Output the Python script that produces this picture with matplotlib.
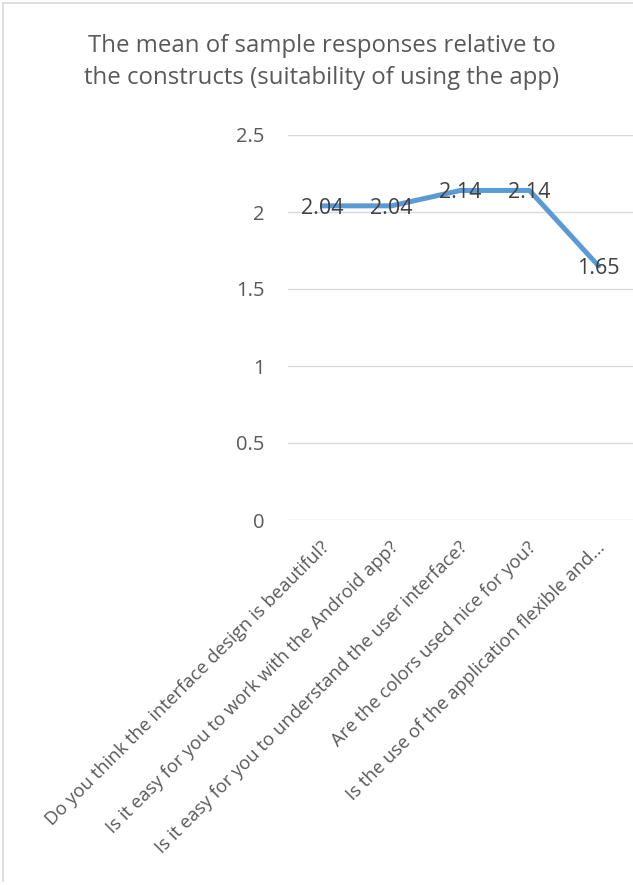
import matplotlib.pyplot as plt
from matplotlib.lines import Line2D

plt.rcParams['font.family'] = ['Open Sans', 'DejaVu Sans']

questions = [
    "Do you think the interface design is beautiful?",
    "Is it easy for you to work with the Android app?",
    "Is it easy for you to understand the user interface?",
    "Are the colors used nice for you?",
    "Is the use of the application flexible and...",
]
means = [2.04, 2.04, 2.14, 2.14, 1.65]
y_ticks = [0, 0.5, 1, 1.5, 2, 2.5]
y_tick_labels = ["0", "0.5", "1", "1.5", "2", "2.5"]
title = "The mean of sample responses relative to\nthe constructs (suitability of using the app)"

W, H = 633, 885
fig = plt.figure(figsize=(W / 100, H / 100), dpi=100)
fig.patch.set_facecolor('white')

# chart area border (left and top edges visible)
grey = '#D9D9D9'
fig.add_artist(Line2D([3 / W, 3 / W], [1 - 3 / H, 1 - 881 / H], transform=fig.transFigure, color=grey, lw=1.2))
fig.add_artist(Line2D([3 / W, 1.0], [1 - 3 / H, 1 - 3 / H], transform=fig.transFigure, color=grey, lw=1.2))

ax = fig.add_axes([288 / W, 1 - 520 / H, (633 - 288) / W, (520 - 135) / H])
x = list(range(len(means)))
ax.plot(x, means, color='#5B9BD5', lw=3.6, solid_capstyle='round', solid_joinstyle='round', zorder=3)
for xi, v in zip(x, means):
    ax.text(xi, v - 0.015, f"{v:.2f}", ha='center', va='center', fontsize=15.5, color='#404040', zorder=4)

ax.set_xlim(-0.5, len(means) - 0.5)
ax.set_ylim(0, 2.5)
ax.set_yticks(y_ticks, y_tick_labels)
ax.yaxis.grid(True, color=grey, lw=1.0)
ax.set_axisbelow(True)
for s in ax.spines.values():
    s.set_visible(False)
ax.tick_params(axis='y', length=0, pad=17, labelsize=14.5, labelcolor='#595959')
ax.tick_params(axis='x', length=0)
ax.set_xticks(x, [""] * len(x))

for xi, q in zip(x, questions):
    ax.annotate(q, xy=(xi, 0), xycoords='data', xytext=(4, -25), textcoords='offset pixels',
                rotation=45, rotation_mode='anchor', ha='right', va='center',
                fontsize=13.3, color='#595959')

fig.text(322 / W, 1 - 62 / H, title, ha='center', va='center', fontsize=17.3, color='#595959', linespacing=1.4)

fig.savefig('out.png', dpi=100, facecolor='white')
